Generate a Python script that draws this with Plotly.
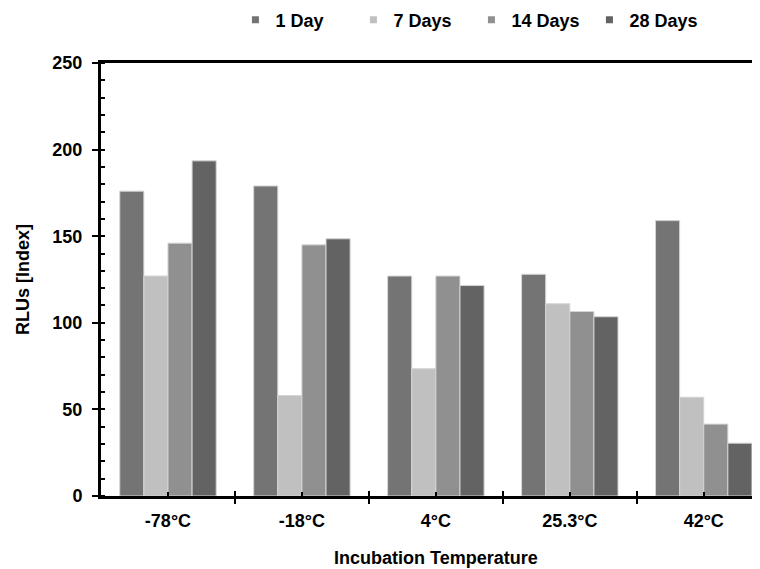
import plotly.graph_objects as go

categories = ["-78°C", "-18°C", "4°C", "25.3°C", "42°C"]
series_names = ["1 Day", "7 Days", "14 Days", "28 Days"]
day1 = [176, 179, 127, 128, 159]
day7 = [127, 58, 73.5, 111, 57]
day14 = [146, 145, 127, 106.5, 41.5]
day28 = [193.5, 148.5, 121.5, 103.5, 30.5]
colors = ["#747474", "#c0c0c0", "#909090", "#636363"]
y_ticks = [0, 50, 100, 150, 200, 250]

xpos = list(range(len(categories)))
boundaries = [i + 0.5 for i in range(len(categories) - 1)]
font_family = "Liberation Sans, Arial, sans-serif"
bold18 = dict(family=font_family, size=18, color="black", weight="bold")

# the page adds an 8px body margin, so the figure is offset by 8px
W, H = 752, 561
M_L, M_R, M_T, M_B = 93, 0, 55, 73
plot_h = H - M_T - M_B
plot_bottom = H - M_B

fig = go.Figure()
for name, vals, col in zip(series_names, [day1, day7, day14, day28], colors):
    fig.add_trace(go.Bar(
        x=xpos, y=vals, name=name, showlegend=False,
        marker=dict(color=col, line=dict(color="#d4d4d4", width=1)),
    ))
    fig.add_trace(go.Scatter(
        x=[None], y=[None], mode="markers", name=name,
        marker=dict(symbol="square", size=7, color=col),
    ))

# overlay axis for the inner half of the crossing boundary ticks
fig.add_trace(go.Scatter(x=[None], y=[None], xaxis="x2", showlegend=False))

fig.update_layout(
    width=W, height=H,
    margin=dict(l=M_L, r=M_R, t=M_T, b=M_B, autoexpand=False),
    paper_bgcolor="white", plot_bgcolor="white",
    barmode="group", bargap=0.28, bargroupgap=0,
    font=dict(family=font_family, size=18, color="black"),
    legend=dict(
        orientation="h", x=0.204, xanchor="left",
        y=1 + (M_T - 12) / plot_h, yanchor="middle",
        font=bold18,
        itemwidth=30, entrywidth=73, entrywidthmode="pixels",
        tracegroupgap=0, bgcolor="rgba(0,0,0,0)",
    ),
    xaxis=dict(
        range=[-0.5, 4.42],
        tickmode="array", tickvals=xpos, ticktext=categories,
        ticks="inside", ticklen=4, tickwidth=2, tickcolor="black",
        tickfont=bold18,
        ticklabelstandoff=6,
        showline=True, linewidth=3, linecolor="black", mirror=True,
        showgrid=False, zeroline=False,
        minor=dict(tickmode="array", tickvals=boundaries, ticks="outside",
                   ticklen=5, tickwidth=2, tickcolor="black", showgrid=False),
    ),
    xaxis2=dict(
        overlaying="x", anchor="y", side="bottom", range=[-0.5, 4.42],
        tickmode="array", tickvals=boundaries, ticks="inside",
        ticklen=5, tickwidth=2, tickcolor="black",
        showticklabels=False, showline=False, showgrid=False, zeroline=False,
    ),
    yaxis=dict(
        range=[0, 250],
        tickmode="array", tickvals=y_ticks,
        ticks="outside", ticklen=6, tickwidth=2, tickcolor="black",
        tickfont=bold18,
        ticklabelstandoff=6,
        showline=True, linewidth=3, linecolor="black",
        showgrid=False, zeroline=False,
        minor=dict(dtick=10, tick0=0, ticks="inside", ticklen=4, tickwidth=2,
                   tickcolor="black", showgrid=False),
        title=dict(text="RLUs [Index]", standoff=19, font=bold18),
    ),
    annotations=[dict(
        text="Incubation Temperature", x=2, xref="x",
        y=(plot_bottom - 550) / plot_h, yref="paper",
        showarrow=False, xanchor="center", yanchor="middle",
        font=bold18,
    )],
)

fig.write_html("out.html")
